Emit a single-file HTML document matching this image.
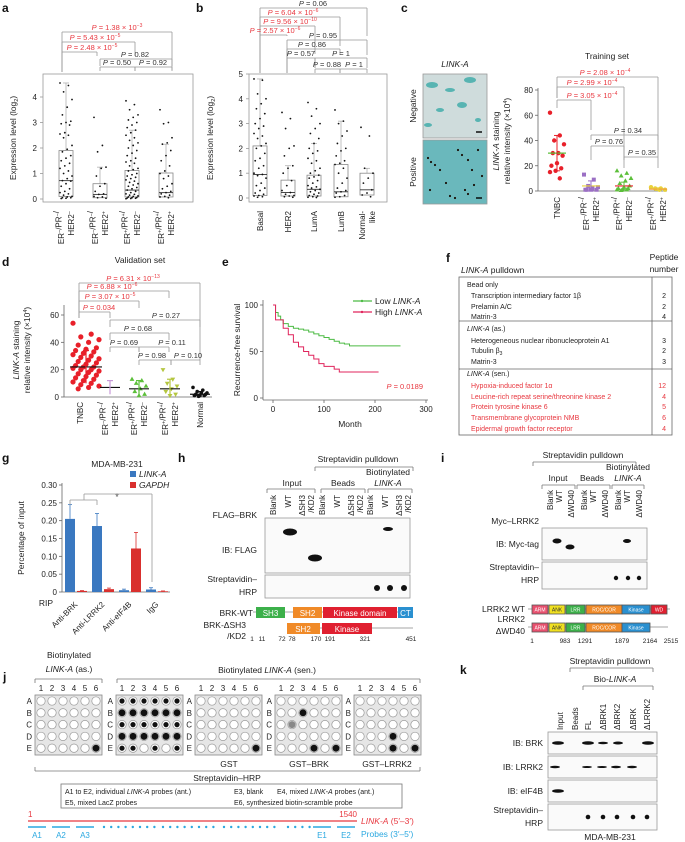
<!DOCTYPE html>
<html><head><meta charset="utf-8">
<style>
html,body{margin:0;padding:0;background:#fff;}
svg{display:block;font-family:"Liberation Sans",Arial,sans-serif;}
</style></head>
<body>
<svg id="fig" width="685" height="842" viewBox="0 0 685 842" xmlns="http://www.w3.org/2000/svg"></svg>
<script>
// ---------- DATA ----------
const aCategories = ['ER−/PR−/|HER2−','ER−/PR−/|HER2+','ER+/PR+/|HER2−','ER+/PR+/|HER2+'];
const aBoxes = [[0.1,0.72,1.9,0,4.55],[0.05,0.18,0.6,0,1.25],[0.08,0.35,1.12,0,2.7],[0.08,0.25,1.02,0,2.15]];
const aPoints0 = [4.55,4.45,4.2,3.9,3.6,3.3,3.05,3.0,2.95,2.9,2.6,2.55,2.5,2.4,2.1,1.95,1.85,1.7,1.6,1.5,1.4,1.3,1.2,1.1,1.0,0.9,0.8,0.72,0.7,0.6,0.5,0.4,0.3,0.25,0.2,0.15,0.1,0.08,0.05,0.05,0.03,0.02];
const aPoints1 = [3.2,2.1,1.85,1.25,1.2,0.9,0.6,0.5,0.3,0.2,0.18,0.1,0.08,0.05,0.03];
const aPoints2 = [3.85,3.7,3.5,3.3,3.2,3.1,3.0,2.9,2.8,2.7,2.6,2.5,2.4,2.3,2.2,2.1,2.0,1.9,1.8,1.7,1.6,1.5,1.45,1.4,1.3,1.2,1.15,1.1,1.0,0.95,0.9,0.85,0.8,0.75,0.7,0.65,0.6,0.55,0.5,0.45,0.4,0.35,0.3,0.25,0.2,0.18,0.15,0.12,0.1,0.08,0.06,0.05,0.04,0.03,0.02,0.01];
const aPoints3 = [3.5,3.0,2.95,2.4,2.2,2.15,1.9,1.7,1.5,1.3,1.1,1.0,0.9,0.8,0.6,0.5,0.4,0.3,0.25,0.2,0.15,0.1,0.08,0.05];
const aTicks = [0,1,2,3,4];

const bCategories = ['Basal','HER2','LumA','LumB','Normal-|like'];
const bBoxes = [[0.1,0.95,2.1,0,4.8],[0.08,0.22,0.72,0,1.3],[0.08,0.35,0.92,0,2.2],[0.05,0.25,1.35,0,3.1],[0.12,0.33,1.0,0,1.2]];
const bPoints0 = [4.8,4.75,4.2,4.0,3.8,3.6,3.4,3.2,3.0,2.9,2.8,2.6,2.5,2.4,2.2,2.1,2.0,1.8,1.6,1.5,1.3,1.2,1.0,0.95,0.9,0.8,0.6,0.5,0.4,0.3,0.2,0.15,0.1,0.08,0.05,0.03];
const bPoints1 = [3.45,3.2,2.8,2.1,2.0,1.7,1.3,1.2,1.0,0.7,0.5,0.3,0.22,0.15,0.1,0.08,0.05,0.03];
const bPoints2 = [3.85,3.6,3.3,3.0,2.8,2.6,2.4,2.2,2.0,1.9,1.8,1.6,1.5,1.4,1.2,1.1,1.0,0.92,0.85,0.8,0.7,0.6,0.5,0.45,0.4,0.35,0.3,0.25,0.2,0.15,0.1,0.08,0.05,0.03,0.02];
const bPoints3 = [3.55,3.1,3.0,2.7,2.5,2.2,2.0,1.9,1.7,1.5,1.4,1.35,1.2,1.0,0.8,0.6,0.4,0.3,0.25,0.2,0.1,0.05,0.03];
const bPoints4 = [2.85,2.5,1.2,1.0,0.8,0.6,0.33,0.2,0.12,0.05];
const bTicks = [0,1,2,3,4,5];

const cTNBC = [62,44,40,37,30,30,28,22,20,18,16,15,10];
const cERnHERp = [13,9,4,3,2,1,1,1,1];
const cERpHERn = [16,14,12,10,8,6,4,3,2,2,1,1,1,0.5];
const cERpHERp = [3,2,2,1,1];
const cMeans = [30,4,4,1.5];
const cSD = [14,4,3,1];
const cTicks = [0,20,40,60,80];

const dTNBC = [54,46,44,42,40,38,36,35,34,33,32,31,30,29,28,27,26,25,24,23,22,22,21,20,20,19,18,17,16,15,14,13,12,11,10,9,8,7,6];
const dERnHERp = [12,7,3];
const dERpHERn = [13,12,10,8,6,4,2,1];
const dERpHERp = [20,13,10,8,6,4,2,1];
const dNormal = [7,5,4,3,3,2,2,1,1,1,0.5];
const dMeans = [22,7,6,6,2];
const dSD = [12,5,6,7,2];
const dTicks = [0,20,40,60];

const eLowMonths = [0,5,10,15,20,30,40,50,60,70,80,90,100,110,120,130,140,150,160,200,250];
const eLowSurv = [100,92,88,84,80,77,75,74,73,71,69,67,65,63,61,59,58,56,56,56,56];
const eHighMonths = [0,5,10,20,30,40,50,60,70,80,90,100,110,120,130,150,200,207];
const eHighSurv = [100,84,84,75,68,60,55,50,46,42,37,34,34,31,28,28,28,28];
const eXTicks = [0,100,200,300];
const eYTicks = [0,50,100];

const gGroups = ['Anti-BRK','Anti-LRRK2','Anti-eIF4B','IgG'];
const gLinkA = [0.205,0.185,0.005,0.007];
const gGapdh = [0.003,0.008,0.122,0.002];
const gLinkAErr = [0.04,0.035,0.003,0.005];
const gGapdhErr = [0.001,0.003,0.045,0.001];
const gTicks = [0,0.05,0.10,0.15,0.20,0.25,0.30];

// ---------- HELPERS ----------
const NS='http://www.w3.org/2000/svg';
const svg=document.getElementById('fig');
const RED='#e8373f', GR='#777';
function mk(tag,a,name,parent){
  const el=document.createElementNS(NS,tag);
  for(const k in a) el.setAttribute(k,a[k]);
  
  
  (parent||svg).appendChild(el);
  return el;
}
function T(x,y,html,name,o){
  o=o||{};
  const el=mk('text',{x:x,y:y,'font-size':o.fs||8,fill:o.fill||'#222','text-anchor':o.anchor||'start'},name);
  if(o.rot!==undefined) el.setAttribute('transform','rotate('+o.rot+' '+x+' '+y+')');
  if(o.it) el.setAttribute('font-style','italic');
  if(o.bold) el.setAttribute('font-weight','bold');
  el.innerHTML=html;
  return el;
}
function L(x1,y1,x2,y2,name,c,w){return mk('line',{x1:x1,y1:y1,x2:x2,y2:y2,stroke:c||'#666','stroke-width':w||0.8},name);}
function R(x,y,w,h,name,fill,stroke){return mk('rect',{x:x,y:y,width:w,height:h,fill:fill||'none',stroke:stroke||'none','stroke-width':0.8},name);}
function C(x,y,r,name,fill,stroke){return mk('circle',{cx:x,cy:y,r:r,fill:fill||'#000',stroke:stroke||'none','stroke-width':0.7},name);}
function pv(val,exp){return '<tspan font-style="italic">P</tspan> = '+val+(exp?' × 10<tspan dy="-3" font-size="5">'+exp+'</tspan>':'');}
function br(x1,x2,y,yb1,yb2,val,exp,lx,col,name){
  L(x1,y,x2,y,name+'-line',col==='r'?'#999':'#999');
  L(x1,y,x1,yb1,name+'-left','#999');L(x2,y,x2,yb2,name+'-right','#999');
  T(lx,y-2,pv(val,exp),name+'-label',{fs:7.5,anchor:'middle',fill:col==='r'?RED:'#333'});
}
function jit(i,w){return (((i*7)%11)-5)/5*w;}
function panel(x,y,l){T(x,y,l,'panel-label-'+l,{fs:12,bold:true,fill:'#111'});}
function catLabel(x,top,str,name){
  const parts=str.split('|');
  parts.forEach((p,k)=>{
    const s=p.replace(/([−+])/g,'<tspan dy="-2.5" font-size="5.5">$1</tspan><tspan dy="2.5"></tspan>');
    T(x-(parts.length-1)*5+k*10+3,top,s,name+'-'+k,{fs:8,anchor:'end',rot:-90});
  });
}

// ---------- PANEL A / B (box plots) ----------
function boxPanel(pref,frame,y0,pxPer,cx,boxes,pts,cats,ticks,ylabX){
  R(frame[0],frame[1],frame[2]-frame[0],frame[3]-frame[1],pref+'-plot-frame','none','#999');
  const ys=v=>y0-v*pxPer;
  ticks.forEach(t=>{L(frame[0]-3,ys(t),frame[0],ys(t),pref+'-y-tick','#999');T(frame[0]-6,ys(t)+3,String(t),pref+'-y-tick-label',{fs:8,anchor:'end'});});
  T(ylabX,(frame[1]+frame[3])/2,'Expression level (log<tspan dy="2" font-size="5.5">2</tspan><tspan dy="-2">)</tspan>',pref+'-y-axis-title',{fs:8.5,anchor:'middle',rot:-90});
  boxes.forEach((b,i)=>{
    const x=cx[i];
    L(x,ys(b[2]),x,ys(b[4]),pref+'-whisker','#999',0.6);
    L(x-3,ys(b[4]),x+3,ys(b[4]),pref+'-whisker-cap','#999',0.6);
    R(x-7,ys(b[2]),14,ys(b[0])-ys(b[2]),pref+'-box','none','#888');
    L(x-7,ys(b[1]),x+7,ys(b[1]),pref+'-median','#333',0.9);
    pts[i].forEach((v,j)=>{C(x+jit(j,6),ys(v),0.9,pref+'-point','#111');});
    catLabel(x,frame[3]+9,cats[i],pref+'-category-label');
  });
}
panel(2,12,'a');
boxPanel('a',[43,74,193,202],199,25.5,[66,100,132,166],aBoxes,[aPoints0,aPoints1,aPoints2,aPoints3],aCategories,aTicks,16);
br(62,172,32,72,70,'1.38','−3',117,'r','a-bracket-1');
br(62,135,42,72,56,'5.43','−5',95,'r','a-bracket-2');
br(62,97,52,72,56,'2.48','−5',92,'r','a-bracket-3');
br(100,172,59,66,66,'0.82','',135,'g','a-bracket-4');
br(100,135,67,71,71,'0.50','',117,'g','a-bracket-5');
br(135,172,67,71,71,'0.92','',153,'g','a-bracket-6');

panel(196,12,'b');
boxPanel('b',[249,74,387,202],198,24.8,[260,288,314,341,367],bBoxes,[bPoints0,bPoints1,bPoints2,bPoints3,bPoints4],bCategories,bTicks,213);
br(260,367,8,73,36,'0.06','',313,'g','b-bracket-1');
br(260,340,17,73,46,'6.04','−6',293,'r','b-bracket-2');
br(260,315,26,73,54,'9.56','−10',290,'r','b-bracket-3');
br(260,287,35,73,36,'2.57','−6',275,'r','b-bracket-4');
br(287,367,40,73,55,'0.95','',323,'g','b-bracket-5');
br(287,340,49,73,55,'0.86','',312,'g','b-bracket-6');
br(287,315,58,73,68,'0.57','',301,'g','b-bracket-7');
br(315,367,58,68,68,'1','',341,'g','b-bracket-8');
br(315,340,69,73,73,'0.88','',327,'g','b-bracket-9');
br(340,367,69,73,73,'1','',354,'g','b-bracket-10');

// ---------- PANEL C ----------
panel(401,12,'c');
T(455,67,'LINK-A','c-image-title',{fs:8.5,it:true,anchor:'middle'});
R(423,74,64,64,'c-negative-image','#cfdcdc','#999');
[[432,85,6,3],[450,90,5,2],[470,80,6,3],[440,110,4,2],[462,105,5,3],[428,125,4,2],[478,120,3,2]].forEach(p=>mk('ellipse',{cx:p[0],cy:p[1],rx:p[2],ry:p[3],fill:'#3aaaa8',opacity:0.8},'c-negative-stain'));
L(476,132,482,132,'c-negative-scalebar','#000',1.4);
R(423,140,64,64,'c-positive-image','#6ab8bc','#999');
[[428,158],[431,162],[435,165],[440,170],[458,150],[462,155],[468,160],[472,170],[465,190],[468,194],[450,196],[455,198],[430,190],[478,150],[482,176],[446,183],[474,185]].forEach(p=>C(p[0],p[1],1.1,'c-positive-dot','#1a120a'));
L(476,198,482,198,'c-positive-scalebar','#000',1.4);
T(416,106,'Negative','c-negative-label',{fs:8.5,anchor:'middle',rot:-90});
T(416,172,'Positive','c-positive-label',{fs:8.5,anchor:'middle',rot:-90});
T(607,59,'Training set','c-chart-title',{fs:8.5,anchor:'middle'});
(function(){
  const y0=191,pp=(191-90)/80, ys=v=>y0-v*pp, cx=[557,591,624,658];
  L(538,88,538,191,'c-y-axis','#666');L(538,191,667,191,'c-x-axis','#666');
  cTicks.forEach(t=>{L(535,ys(t),538,ys(t),'c-y-tick','#666');T(533,ys(t)+3,String(t),'c-y-tick-label',{fs:8,anchor:'end'});});
  T(499,141,'<tspan font-style="italic">LINK-A</tspan> staining','c-y-axis-title-1',{fs:8.5,anchor:'middle',rot:-90});
  T(510,141,'relative intensity (×10<tspan dy="-3" font-size="5.5">4</tspan><tspan dy="3">)</tspan>','c-y-axis-title-2',{fs:8.5,anchor:'middle',rot:-90});
  const sets=[cTNBC,cERnHERp,cERpHERn,cERpHERp], cols=['#e8202a','#9b6fc4','#5cbf3a','#e8d23a'], mcol=['#5cbf3a','#e8d23a','#e8202a','#f0a040'];
  sets.forEach((s,i)=>{
    s.forEach((v,j)=>{
      const x=cx[i]+jit(j,7), y=ys(v);
      if(i===1) R(x-2,y-2,4,4,'c-point-square',cols[i]);
      else if(i===2) mk('path',{d:'M'+x+' '+(y-2.6)+'L'+(x+2.4)+' '+(y+1.6)+'L'+(x-2.4)+' '+(y+1.6)+'Z',fill:cols[i]},'c-point-triangle');
      else C(x,y,2.2,'c-point-circle',cols[i]);
    });
    L(cx[i]-9,ys(cMeans[i]),cx[i]+9,ys(cMeans[i]),'c-mean-line',mcol[i],1.2);
    L(cx[i],ys(cMeans[i]-cSD[i]),cx[i],ys(cMeans[i]+cSD[i]),'c-error-bar',cols[i],1);
    L(cx[i]-3,ys(cMeans[i]+cSD[i]),cx[i]+3,ys(cMeans[i]+cSD[i]),'c-error-cap',cols[i],1);
    L(cx[i]-3,ys(cMeans[i]-cSD[i]),cx[i]+3,ys(cMeans[i]-cSD[i]),'c-error-cap',cols[i],1);
  });
  catLabel(557,197,'TNBC','c-category-label');
  catLabel(591,197,'ER−/PR−/|HER2+','c-category-label');
  catLabel(624,197,'ER+/PR+/|HER2−','c-category-label');
  catLabel(658,197,'ER+/PR+/|HER2+','c-category-label');
})();
br(557,658,77,98,140,'2.08','−4',605,'r','c-bracket-1');
br(557,624,87,98,160,'2.99','−4',592,'r','c-bracket-2');
br(557,591,100,108,130,'3.05','−4',592,'r','c-bracket-3');
br(591,658,135,140,157,'0.34','',628,'g','c-bracket-4');
br(591,624,146,160,160,'0.76','',609,'g','c-bracket-5');
br(624,658,157,168,168,'0.35','',642,'g','c-bracket-6');

// ---------- PANEL D ----------
panel(2,266,'d');
T(140,263,'Validation set','d-chart-title',{fs:8.5,anchor:'middle'});
(function(){
  const y0=397,pp=(397-315)/60, ys=v=>y0-v*pp, cx=[86,110,139,170,200];
  L(64,305,64,397,'d-y-axis','#666');L(64,397,212,397,'d-x-axis','#666');
  dTicks.forEach(t=>{L(61,ys(t),64,ys(t),'d-y-tick','#666');T(59,ys(t)+3,String(t),'d-y-tick-label',{fs:8,anchor:'end'});});
  T(19,350,'<tspan font-style="italic">LINK-A</tspan> staining','d-y-axis-title-1',{fs:8.5,anchor:'middle',rot:-90});
  T(30,350,'relative intensity (×10<tspan dy="-3" font-size="5.5">4</tspan><tspan dy="3">)</tspan>','d-y-axis-title-2',{fs:8.5,anchor:'middle',rot:-90});
  const sets=[dTNBC,dERnHERp,dERpHERn,dERpHERp,dNormal], cols=['#e8202a','#c89ad8','#5cbf3a','#b5c640','#111'];
  sets.forEach((s,i)=>{
    const w=i===0?13:7;
    s.forEach((v,j)=>{
      const x=cx[i]+jit(j,w), y=ys(v);
      if(i===2) mk('path',{d:'M'+x+' '+(y-2.6)+'L'+(x+2.4)+' '+(y+1.6)+'L'+(x-2.4)+' '+(y+1.6)+'Z',fill:cols[i]},'d-point-triangle');
      else if(i===3) mk('path',{d:'M'+x+' '+(y+2.6)+'L'+(x+2.4)+' '+(y-1.6)+'L'+(x-2.4)+' '+(y-1.6)+'Z',fill:cols[i]},'d-point-triangle-down');
      else if(i===1) {}
      else C(x,y,i===0?2.6:1.8,'d-point-circle',cols[i]);
    });
    const mw=i===0?16:10;
    L(cx[i]-mw,ys(dMeans[i]),cx[i]+mw,ys(dMeans[i]),'d-mean-line','#111',1.2);
    L(cx[i],ys(Math.max(0,dMeans[i]-dSD[i])),cx[i],ys(dMeans[i]+dSD[i]),'d-error-bar',cols[i],1.2);
    L(cx[i]-3,ys(dMeans[i]+dSD[i]),cx[i]+3,ys(dMeans[i]+dSD[i]),'d-error-cap',cols[i],1.2);
  });
  catLabel(80,402,'TNBC','d-category-label');
  catLabel(110,402,'ER−/PR−/|HER2+','d-category-label');
  catLabel(139,402,'ER+/PR+/|HER2−','d-category-label');
  catLabel(170,402,'ER+/PR+/|HER2+','d-category-label');
  catLabel(200,402,'Normal','d-category-label');
})();
br(79,200,283,318,360,'6.31','−13',133,'r','d-bracket-1');
br(79,169,291,318,298,'6.88','−6',112,'r','d-bracket-2');
br(79,139,301,318,308,'3.07','−5',110,'r','d-bracket-3');
br(79,110,312,318,318,'0.034','',99,'r','d-bracket-4');
br(110,200,320,327,327,'0.27','',166,'g','d-bracket-5');
br(110,169,333,340,340,'0.68','',138,'g','d-bracket-6');
br(110,139,347,352,352,'0.69','',124,'g','d-bracket-7');
br(139,169,347,352,352,'0.11','',172,'g','d-bracket-8');
br(139,171,360,365,365,'0.98','',152,'g','d-bracket-9');
br(171,200,360,365,365,'0.10','',188,'g','d-bracket-10');

// ---------- PANEL E ----------
panel(222,266,'e');
(function(){
  const xs=m=>273+m*(426-273)/300, ys=v=>398-v*(398-305)/100;
  L(263,300,263,400,'e-y-axis','#666');L(263,400,428,400,'e-x-axis','#666');
  eYTicks.forEach(t=>{L(260,ys(t),263,ys(t),'e-y-tick','#666');T(258,ys(t)+3,String(t),'e-y-tick-label',{fs:8,anchor:'end'});});
  eXTicks.forEach(t=>{L(xs(t),400,xs(t),403,'e-x-tick','#666');T(xs(t),412,String(t),'e-x-tick-label',{fs:8,anchor:'middle'});});
  T(350,427,'Month','e-x-axis-title',{fs:8.5,anchor:'middle'});
  T(240,350,'Recurrence-free survival','e-y-axis-title',{fs:8.5,anchor:'middle',rot:-90});
  function step(ms,vs){let d='M'+xs(ms[0])+' '+ys(vs[0]);for(let i=1;i<ms.length;i++){d+='H'+xs(ms[i])+'V'+ys(vs[i]);}return d;}
  mk('path',{d:step(eLowMonths,eLowSurv),fill:'none',stroke:'#4cbb44','stroke-width':1},'e-low-link-a-curve');
  mk('path',{d:step(eHighMonths,eHighSurv),fill:'none',stroke:'#e0245c','stroke-width':1},'e-high-link-a-curve');
  L(353,301,372,301,'e-legend-low-line','#4cbb44',1.2);C(362,301,1.2,'e-legend-low-marker','#4cbb44');
  T(375,304,'Low <tspan font-style="italic">LINK-A</tspan>','e-legend-low-label',{fs:8.5});
  L(353,312,372,312,'e-legend-high-line','#e0245c',1.2);C(362,312,1.2,'e-legend-high-marker','#e0245c');
  T(375,315,'High <tspan font-style="italic">LINK-A</tspan>','e-legend-high-label',{fs:8.5});
  T(423,389,pv('0.0189',''),'e-p-value',{fs:7.5,anchor:'end',fill:RED});
})();

// ---------- PANEL F (table) ----------
panel(446,262,'f');
T(461,273,'<tspan font-style="italic">LINK-A</tspan> pulldown','f-table-title',{fs:8.5});
T(664,260,'Peptide','f-column-header-1',{fs:8.5,anchor:'middle'});
T(664,272,'number','f-column-header-2',{fs:8.5,anchor:'middle'});
R(459,277,213,158,'f-table-border','none','#666');
L(652,277,652,435,'f-column-divider','#666');
L(459,321,672,321,'f-section-divider-1','#666');
L(459,369,672,369,'f-section-divider-2','#666');
[[287,'Bead only',0,'',0],[298,'Transcription intermediary factor 1β',1,'2',0],[309,'Prelamin A/C',1,'2',0],[319,'Matrin-3',1,'4',0],
 [331,'<tspan font-style="italic">LINK-A</tspan> (as.)',0,'',0],[343,'Heterogeneous nuclear ribonucleoprotein A1',1,'3',0],[353,'Tubulin β<tspan dy="2" font-size="5">3</tspan>',1,'2',0],[364,'Matrin-3',1,'3',0],
 [376,'<tspan font-style="italic">LINK-A</tspan> (sen.)',0,'',0],[388,'Hypoxia-induced factor 1α',1,'12',1],[399,'Leucine-rich repeat serine/threonine kinase 2',1,'4',1],[409,'Protein tyrosine kinase 6',1,'5',1],[420,'Transmembrane glycoprotein NMB',1,'6',1],[431,'Epidermal growth factor receptor',1,'4',1]
].forEach(r=>{
  T(r[2]?471:467,r[0],r[1],'f-row-label',{fs:7,fill:r[4]?RED:'#222'});
  if(r[3]) T(666,r[0],r[3],'f-peptide-number',{fs:7,anchor:'end',fill:r[4]?RED:'#222'});
});

// ---------- PANEL G (bar chart) ----------
panel(2,462,'g');
T(117,467,'MDA-MB-231','g-chart-title',{fs:8.5,anchor:'middle'});
R(130,471,6,6,'g-legend-link-a-swatch','#3a78c0');T(139,477,'LINK-A','g-legend-link-a-label',{fs:8.5,it:true});
R(130,482,6,6,'g-legend-gapdh-swatch','#d9302e');T(139,488,'GAPDH','g-legend-gapdh-label',{fs:8.5,it:true});
(function(){
  const y0=592,pp=(592-485)/0.30, ys=v=>y0-v*pp, gc=[76,103,130,157];
  L(62,483,62,592,'g-y-axis','#666');L(62,592,170,592,'g-x-axis','#666');
  gTicks.forEach(t=>{L(59,ys(t),62,ys(t),'g-y-tick','#666');T(57,ys(t)+3,t===0?'0':t.toFixed(2),'g-y-tick-label',{fs:8,anchor:'end'});});
  T(24,538,'Percentage of input','g-y-axis-title',{fs:8.5,anchor:'middle',rot:-90});
  gGroups.forEach((g,i)=>{
    const xb=gc[i]-11, xr=gc[i]+1;
    R(xb,ys(gLinkA[i]),10,ys(0)-ys(gLinkA[i]),'g-bar-link-a','#3a78c0');
    R(xr,ys(gGapdh[i]),10,ys(0)-ys(gGapdh[i]),'g-bar-gapdh','#d9302e');
    L(xb+5,ys(gLinkA[i]),xb+5,ys(gLinkA[i]+gLinkAErr[i]),'g-error-link-a','#3a78c0',0.8);
    L(xb+3,ys(gLinkA[i]+gLinkAErr[i]),xb+7,ys(gLinkA[i]+gLinkAErr[i]),'g-error-cap','#3a78c0',0.8);
    L(xr+5,ys(gGapdh[i]),xr+5,ys(gGapdh[i]+gGapdhErr[i]),'g-error-gapdh','#d9302e',0.8);
    L(xr+3,ys(gGapdh[i]+gGapdhErr[i]),xr+7,ys(gGapdh[i]+gGapdhErr[i]),'g-error-cap','#d9302e',0.8);
    T(gc[i]+2,605,g,'g-x-label',{fs:8,anchor:'end',rot:-45});
  });
  T(53,606,'RIP','g-rip-label',{fs:8.5,anchor:'end'});
  L(70,500,97,500,'g-sig-bracket','#999');L(70,500,70,505,'g-sig-bracket-l','#999');L(97,500,97,505,'g-sig-bracket-r','#999');
  L(84,494,84,500,'g-sig-bracket-c','#999');L(84,494,152,494,'g-sig-bracket-top','#999');L(152,494,152,582,'g-sig-bracket-down','#999');
  T(117,500,'*','g-sig-star',{fs:9,anchor:'middle',fill:'#555'});
})();

// ---------- BLOT HELPERS ----------
function blob(x,y,rx,ry,name){mk('ellipse',{cx:x,cy:y,rx:rx,ry:ry,fill:'#111'},name);}
function lane(x,top,str,name){T(x+3,top,str,name,{fs:8,anchor:'end',rot:-90});}
function bracketDown(x1,x2,y,name){L(x1,y,x2,y,name,'#777');L(x1,y,x1,y+4,name+'-l','#777');L(x2,y,x2,y+4,name+'-r','#777');}

// ---------- PANEL H ----------
panel(178,462,'h');
T(358,462,'Streptavidin pulldown','h-pulldown-title',{fs:8.5,anchor:'middle'});
bracketDown(315,413,467,'h-pulldown-bracket');
T(388,475,'Biotinylated','h-biotinylated-label',{fs:8.5,anchor:'middle'});
T(388,486,'LINK-A','h-link-a-label',{fs:8.5,anchor:'middle',it:true});
T(292,486,'Input','h-input-label',{fs:8.5,anchor:'middle'});
T(343,486,'Beads','h-beads-label',{fs:8.5,anchor:'middle'});
bracketDown(267,315,489,'h-input-bracket');bracketDown(321,365,489,'h-beads-bracket');bracketDown(368,412,489,'h-bio-bracket');
[273,322,370].forEach((x0,g)=>{lane(x0,495,'Blank','h-lane-blank');lane(x0+15,495,'WT','h-lane-wt');lane(x0+29,495,'ΔSH3','h-lane-dsh3');lane(x0+38,495,'/KD2','h-lane-kd2');});
T(257,518,'FLAG–BRK','h-flag-brk-label',{fs:8.5,anchor:'end'});
R(265,518,145,55,'h-blot-flag','#fafafa','#999');
R(265,575,145,23,'h-blot-hrp','#fafafa','#999');
T(257,553,'IB: FLAG','h-ib-flag-label',{fs:8.5,anchor:'end'});
T(257,582,'Streptavidin–','h-strep-label-1',{fs:8.5,anchor:'end'});T(257,595,'HRP','h-strep-label-2',{fs:8.5,anchor:'end'});
blob(290,532,7,3.5,'h-band-input-wt');blob(315,558,7,3.5,'h-band-input-dsh3');blob(388,529,5,2,'h-band-bio-wt');
[377,390,404].forEach(x=>C(x,588,3,'h-hrp-dot','#111'));
T(253,616,'BRK-WT','h-brk-wt-label',{fs:8.5,anchor:'end'});
L(253,612,413,612,'h-brk-wt-line','#888');
[[256,29,'#3cb04a','SH3'],[293,29,'#f08a28','SH2'],[323,74,'#e02030','Kinase domain'],[398,15,'#2a90d0','CT']].forEach(d=>{R(d[0],607,d[1],11,'h-domain-'+d[3].toLowerCase().replace(' ','-'),d[2]);T(d[0]+d[1]/2,616,d[3],'h-domain-label',{fs:8,anchor:'middle',fill:'#fff'});});
T(246,628,'BRK-ΔSH3','h-brk-dsh3-label-1',{fs:8.5,anchor:'end'});T(246,639,'/KD2','h-brk-dsh3-label-2',{fs:8.5,anchor:'end'});
L(287,628,413,628,'h-brk-dsh3-line','#888');
R(287,623,33,11,'h-domain-sh2-b','#f08a28');T(303,632,'SH2','h-domain-label',{fs:8,anchor:'middle',fill:'#fff'});
R(322,623,50,11,'h-domain-kinase-b','#e02030');T(347,632,'Kinase','h-domain-label',{fs:8,anchor:'middle',fill:'#fff'});
[[252,'1'],[262,'11'],[282,'72'],[292,'78'],[316,'170'],[330,'191'],[365,'321'],[411,'451']].forEach(n=>T(n[0],641,n[1],'h-residue-number',{fs:6.5,anchor:'middle'}));

// ---------- PANEL I ----------
panel(441,462,'i');
T(583,458,'Streptavidin pulldown','i-pulldown-title',{fs:8.5,anchor:'middle'});
bracketDown(533,636,462,'i-pulldown-bracket');
T(628,470,'Biotinylated','i-biotinylated-label',{fs:8.5,anchor:'middle'});
T(558,481,'Input','i-input-label',{fs:8.5,anchor:'middle'});
T(592,481,'Beads','i-beads-label',{fs:8.5,anchor:'middle'});
T(628,481,'LINK-A','i-link-a-label',{fs:8.5,anchor:'middle',it:true});
bracketDown(542,575,485,'i-input-bracket');bracketDown(577,610,485,'i-beads-bracket');bracketDown(612,644,485,'i-bio-bracket');
[550,584,618].forEach(x0=>{lane(x0,490,'Blank','i-lane-blank');lane(x0+9,490,'WT','i-lane-wt');lane(x0+21,490,'ΔWD40','i-lane-dwd40');});
T(539,524,'Myc–LRRK2','i-myc-lrrk2-label',{fs:8.5,anchor:'end'});
R(542,528,105,32,'i-blot-myc','#fafafa','#999');R(542,562,105,27,'i-blot-hrp','#fafafa','#999');
T(539,547,'IB: Myc-tag','i-ib-myc-label',{fs:8.5,anchor:'end'});
T(539,570,'Streptavidin–','i-strep-label-1',{fs:8.5,anchor:'end'});T(539,583,'HRP','i-strep-label-2',{fs:8.5,anchor:'end'});
blob(557,541,4.5,2.5,'i-band-input-wt');blob(570,547,4.5,2.5,'i-band-input-dwd40');blob(627,541,4,2,'i-band-bio-wt');
[616,628,639].forEach(x=>C(x,578,2.2,'i-hrp-dot','#111'));
T(525,612,'LRRK2 WT','i-lrrk2-wt-label',{fs:8.5,anchor:'end'});
T(525,622,'LRRK2','i-lrrk2-dwd40-label-1',{fs:8.5,anchor:'end'});T(525,634,'ΔWD40','i-lrrk2-dwd40-label-2',{fs:8.5,anchor:'end'});
L(528,609,670,609,'i-wt-line','#888');L(528,627,668,627,'i-dwd40-line','#888');
const iDomains=[[532,16,'#e8506e','ARM'],[549,16,'#f0e020','ANK'],[566,19,'#3cb04a','LRR'],[586,36,'#f08a28','ROC/COR'],[622,28,'#2a90d0','Kinase']];
iDomains.forEach(d=>{[605,623].forEach(y=>{R(d[0],y,d[1],9,'i-domain-'+d[3].toLowerCase(),d[2],'#555');T(d[0]+d[1]/2,y+6.5,d[3],'i-domain-label',{fs:5,anchor:'middle',fill:d[3]==='ANK'?'#333':'#fff'});});});
R(651,605,16,9,'i-domain-wd','#e02030','#555');T(659,611.5,'WD','i-domain-label',{fs:5,anchor:'middle',fill:'#fff'});
[[532,'1'],[565,'983'],[585,'1291'],[622,'1879'],[650,'2164'],[671,'2515']].forEach(n=>T(n[0],643,n[1],'i-residue-number',{fs:6.5,anchor:'middle'}));

// ---------- PANEL J ----------
panel(3,681,'j');
T(69,658,'Biotinylated','j-as-title-1',{fs:8.5,anchor:'middle'});
T(69,672,'<tspan font-style="italic">LINK-A</tspan> (as.)','j-as-title-2',{fs:8.5,anchor:'middle'});
bracketDown(35,102,679,'j-as-bracket');
T(267,673,'Biotinylated <tspan font-style="italic">LINK-A</tspan> (sen.)','j-sen-title',{fs:8.5,anchor:'middle'});
bracketDown(117,420,679,'j-sen-bracket');
const jFilled=[['E6'],['A1','A2','A3','A4','A5','A6','B1','B2','B3','B4','B5','B6','C1','C2','C3','C4','C5','C6','D1','D2','D3','D4','D5','D6','E1','E2','E4','E6'],['E6'],['B3','C2','E4','E6'],['D4','E4','E6']];
const jGridX=[35,116,195,275,354];
jGridX.forEach((gx,g)=>{
  R(gx,695,67,60,'j-membrane-'+(g+1),'#e6e6e6','#888');
  for(let c=0;c<6;c++) T(gx+6+c*11,691,String(c+1),'j-column-number',{fs:8,anchor:'middle'});
  'ABCDE'.split('').forEach((r,ri)=>{
    T(gx-3,701+ri*11.8+3,r,'j-row-letter',{fs:8,anchor:'end'});
    for(let c=0;c<6;c++){
      const id=r+(c+1), x=gx+6+c*11, y=701+ri*11.8;
      C(x,y,4.2,'j-dot-'+id,'#fff','#999');
      if(jFilled[g].indexOf(id)>=0){C(x,y,g===1&&(ri%2===0)?2.6:3.5,'j-dot-signal-'+id,(g===3&&id==='C2')?'#888':'#111');}
    }
  });
});
T(229,767,'GST','j-gst-label',{fs:8.5,anchor:'middle'});
T(309,767,'GST–BRK','j-gst-brk-label',{fs:8.5,anchor:'middle'});
T(387,767,'GST–LRRK2','j-gst-lrrk2-label',{fs:8.5,anchor:'middle'});
L(35,771,420,771,'j-hrp-bracket','#777');L(35,767,35,771,'j-hrp-bracket-l','#777');L(420,767,420,771,'j-hrp-bracket-r','#777');
T(227,781,'Streptavidin–HRP','j-hrp-label',{fs:8.5,anchor:'middle'});
R(61,784,341,24,'j-legend-box','none','#777');
T(65,794,'A1 to E2, individual <tspan font-style="italic">LINK-A</tspan> probes (ant.)','j-legend-1',{fs:7});
T(234,794,'E3, blank','j-legend-2',{fs:7});
T(277,794,'E4, mixed <tspan font-style="italic">LINK-A</tspan> probes (ant.)','j-legend-3',{fs:7});
T(65,805,'E5, mixed LacZ probes','j-legend-4',{fs:7});
T(234,805,'E6, synthesized biotin-scramble probe','j-legend-5',{fs:7});
L(28,821,357,821,'j-link-a-line',RED,1.3);
T(28,817,'1','j-start-label',{fs:8,fill:RED});T(357,817,'1540','j-end-label',{fs:8,anchor:'end',fill:RED});
T(361,824,'<tspan font-style="italic">LINK-A</tspan> (5′–3′)','j-link-a-label',{fs:8.5,fill:RED});
const BL='#2aa8e0';
[[28,'A1'],[52,'A2'],[76,'A3'],[313,'E1'],[337,'E2']].forEach(p=>{L(p[0],827,p[0]+18,827,'j-probe-'+p[1],BL,1.5);T(p[0]+9,838,p[1],'j-probe-label',{fs:8,anchor:'middle',fill:BL});});
[[104,8],[163,8],[224,8],[288,4]].forEach(g=>{for(let k=0;k<g[1];k++)C(g[0]+k*7.2,827,1.2,'j-probe-dot',BL);});
T(361,837,'Probes (3′–5′)','j-probes-label',{fs:8.5,fill:BL});

// ---------- PANEL K ----------
panel(460,674,'k');
T(610,664,'Streptavidin pulldown','k-pulldown-title',{fs:8.5,anchor:'middle'});
bracketDown(570,653,668,'k-pulldown-bracket');
T(615,682,'Bio-<tspan font-style="italic">LINK-A</tspan>','k-bio-link-a-label',{fs:8.5,anchor:'middle'});
bracketDown(583,653,686,'k-bio-bracket');
[[560,'Input'],[575,'Beads'],[588,'FL'],[603,'ΔBRK1'],[617,'ΔBRK2'],[633,'ΔBRK'],[647,'ΔLRRK2']].forEach(l=>T(l[0]+3,730,l[1],'k-lane-label',{fs:8,rot:-90}));
[[732,'IB: BRK'],[756,'IB: LRRK2'],[780,'IB: eIF4B']].forEach((b,i)=>{R(548,b[0],109,22,'k-blot-'+i,'#fafafa','#999');T(543,b[0]+14,b[1],'k-blot-label',{fs:8.5,anchor:'end'});});
R(548,804,109,26,'k-blot-hrp','#fafafa','#999');
T(543,813,'Streptavidin–','k-strep-label-1',{fs:8.5,anchor:'end'});T(543,826,'HRP','k-strep-label-2',{fs:8.5,anchor:'end'});
[[558,6,1.8],[588,6,1.8],[603,5,1.2],[618,5,1.5],[648,6,1.8]].forEach(b=>blob(b[0],743,b[1],b[2],'k-band-brk'));
[[555,5,1.3],[587,5,1],[602,5,1],[616,5,1.2],[632,5,1.2]].forEach(b=>blob(b[0],767,b[1],b[2],'k-band-lrrk2'));
blob(558,791,6,1.8,'k-band-eif4b');
[588,603,617,633,647].forEach(x=>C(x,817,2.3,'k-hrp-dot','#111'));
T(610,840,'MDA-MB-231','k-cell-line-label',{fs:8.5,anchor:'middle'});
</script>
</body></html>
